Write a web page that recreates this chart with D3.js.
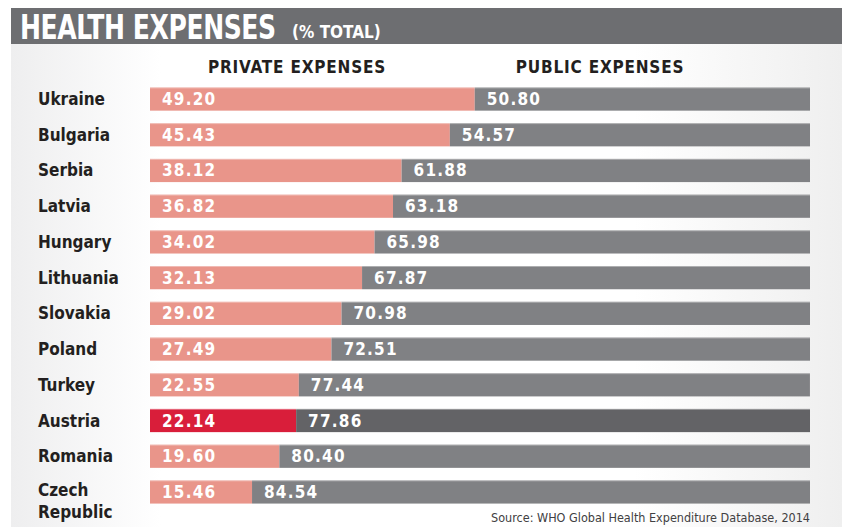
<!DOCTYPE html>
<html lang="en">
<head>
  <meta charset="UTF-8">
  <title>Health expenses</title>
  <script src="https://d3js.org/d3.v7.min.js"></script>
  <style>
    body { margin: 0; background: #fff; }
    svg text { font-family: "Liberation Sans Narrow", "DejaVu Sans Condensed", "Roboto Condensed", sans-serif; }
    .country { font-size: 17px; font-weight: bold; fill: #231f20; }
    .value { font-size: 17px; font-weight: bold; fill: #fff; letter-spacing: 1.2px; }
    .head { font-size: 17px; font-weight: bold; fill: #231f20; letter-spacing: 0.8px; }
  </style>
</head>
<body>
  <script>
    // data
    const countries = ["Ukraine", "Bulgaria", "Serbia", "Latvia", "Hungary", "Lithuania",
      "Slovakia", "Poland", "Turkey", "Austria", "Romania", "Czech Republic"];
    const privateExp = [49.20, 45.43, 38.12, 36.82, 34.02, 32.13, 29.02, 27.49, 22.55, 22.14, 19.60, 15.46];
    const publicExp = [50.80, 54.57, 61.88, 63.18, 65.98, 67.87, 70.98, 72.51, 77.44, 77.86, 80.40, 84.54];
    const highlight = "Austria";

    const width = 842, height = 527;

    const svg = d3.select("body").append("svg")
      .attr("width", width)
      .attr("height", height);

    // background panel with soft gray edges
    const defs = svg.append("defs");
    const grad = defs.append("linearGradient").attr("id", "bg");
    grad.append("stop").attr("offset", "0%").attr("stop-color", "#eeeeef");
    grad.append("stop").attr("offset", "18%").attr("stop-color", "#ffffff");
    grad.append("stop").attr("offset", "75%").attr("stop-color", "#ffffff");
    grad.append("stop").attr("offset", "100%").attr("stop-color", "#efefef");

    svg.append("rect")
      .attr("x", 11).attr("y", 44)
      .attr("width", width - 11).attr("height", height - 44)
      .attr("fill", "url(#bg)");

    // title banner
    svg.append("rect")
      .attr("x", 11).attr("y", 8)
      .attr("width", width - 11).attr("height", 36)
      .attr("fill", "#6d6e71");

    // condensed look: squeeze the title horizontally
    svg.append("text")
      .attr("transform", "translate(20,39) scale(0.82,1)")
      .attr("fill", "#fff")
      .style("font-weight", "bold")
      .style("font-size", "34px")
      .style("letter-spacing", "-0.5px")
      .text("HEALTH EXPENSES");
    svg.append("text")
      .attr("x", 292).attr("y", 38)
      .attr("fill", "#fff")
      .style("font-weight", "bold")
      .style("font-size", "17px")
      .text("(% TOTAL)");

    // scales
    const x = d3.scaleLinear().domain([0, 100]).range([150, 810]);
    const y = d3.scaleBand().domain(countries).range([81, 510]).paddingInner(0.35).paddingOuter(0.18);

    // column heads
    svg.append("text").attr("class", "head")
      .attr("x", 297).attr("y", 73).attr("text-anchor", "middle")
      .text("PRIVATE EXPENSES");
    svg.append("text").attr("class", "head")
      .attr("x", 600).attr("y", 73).attr("text-anchor", "middle")
      .text("PUBLIC EXPENSES");

    const rows = svg.selectAll(".row")
      .data(countries.map((c, i) => ({ name: c, priv: privateExp[i], pub: publicExp[i] })))
      .join("g")
      .attr("class", "row")
      .attr("transform", d => `translate(0,${y(d.name)})`);

    const bh = y.bandwidth();

    rows.append("rect")
      .attr("x", x(0))
      .attr("width", d => x(d.priv) - x(0))
      .attr("height", bh)
      .attr("fill", d => d.name === highlight ? "#d91e3a" : "#e9958a");

    rows.append("rect")
      .attr("x", d => x(d.priv))
      .attr("width", d => x(d.priv + d.pub) - x(d.priv))
      .attr("height", bh)
      .attr("fill", d => d.name === highlight ? "#636366" : "#808184");

    // thin light edge at top of each bar
    rows.append("line")
      .attr("x1", x(0)).attr("x2", d => x(d.priv + d.pub))
      .attr("y1", 0.5).attr("y2", 0.5)
      .attr("stroke", "#ffffff").attr("stroke-opacity", 0.35);

    rows.append("text").attr("class", "value")
      .attr("x", x(0) + 12)
      .attr("y", bh / 2 + 6)
      .text(d => d.priv.toFixed(2));

    rows.append("text").attr("class", "value")
      .attr("x", d => x(d.priv) + 12)
      .attr("y", bh / 2 + 6)
      .text(d => d.pub.toFixed(2));

    // country labels, wrap two-word names
    rows.each(function (d) {
      const t = d3.select(this).append("text").attr("class", "country").attr("x", 38);
      const words = d.name.split(" ");
      if (words.length > 1) {
        t.append("tspan").attr("x", 38).attr("y", bh / 2 + 4).text(words[0]);
        t.append("tspan").attr("x", 38).attr("y", bh / 2 + 26).text(words.slice(1).join(" "));
      } else {
        t.attr("y", bh / 2 + 6).text(d.name);
      }
    });

    // source
    svg.append("text")
      .attr("x", 810).attr("y", 522)
      .attr("text-anchor", "end")
      .style("font-size", "12.5px")
      .attr("fill", "#414042")
      .text("Source: WHO Global Health Expenditure Database, 2014");
  </script>
</body>
</html>
